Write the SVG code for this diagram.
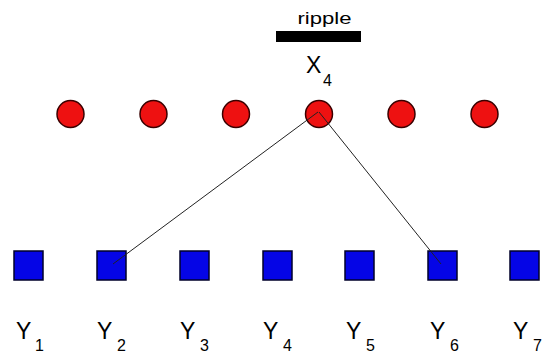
<svg xmlns="http://www.w3.org/2000/svg" width="545" height="360" viewBox="0 0 545 360">
<style>
.c{fill:#ee1111;stroke:#3a0000;stroke-width:1.5}
.s{fill:#0505e6;stroke:#00002a;stroke-width:1.5}
.l{stroke:#222;stroke-width:1;fill:none}
.t{font-family:"Liberation Sans",Arial,sans-serif;fill:#000}
.b{font-size:23px}
.sub{font-size:16px}
</style>
<rect width="545" height="360" fill="#fff"/>
<g id="ripple">
<text class="t" x="297.5" y="24" font-size="17" textLength="54" lengthAdjust="spacingAndGlyphs">ripple</text>
<rect x="276" y="31" width="85" height="11" fill="#000"/>
</g>
<g id="x4-label"><text class="t b" x="306" y="73">X</text><text class="t sub" x="323" y="86">4</text></g>
<g id="x1"><circle class="c" cx="70.5" cy="114" r="13.5"/></g>
<g id="x2"><circle class="c" cx="153.5" cy="114" r="13.5"/></g>
<g id="x3"><circle class="c" cx="236" cy="114" r="13.5"/></g>
<g id="x4"><circle class="c" cx="319" cy="114" r="13.5"/></g>
<g id="x5"><circle class="c" cx="401.5" cy="114" r="13.5"/></g>
<g id="x6"><circle class="c" cx="484.5" cy="114" r="13.5"/></g>
<g id="y1"><rect class="s" x="14" y="251" width="29" height="29"/><text class="t b" x="16" y="339">Y</text><text class="t sub" x="35" y="351">1</text></g>
<g id="y2"><rect class="s" x="97" y="251" width="29" height="29"/><text class="t b" x="97" y="339">Y</text><text class="t sub" x="117" y="351">2</text></g>
<g id="y3"><rect class="s" x="180" y="251" width="29" height="29"/><text class="t b" x="180" y="339">Y</text><text class="t sub" x="200" y="351">3</text></g>
<g id="y4"><rect class="s" x="263" y="251" width="29" height="29"/><text class="t b" x="263" y="339">Y</text><text class="t sub" x="283" y="351">4</text></g>
<g id="y5"><rect class="s" x="345" y="251" width="29" height="29"/><text class="t b" x="346" y="339">Y</text><text class="t sub" x="366" y="351">5</text></g>
<g id="y6"><rect class="s" x="428" y="251" width="29" height="29"/><text class="t b" x="430" y="339">Y</text><text class="t sub" x="450" y="351">6</text></g>
<g id="y7"><rect class="s" x="510" y="251" width="29" height="29"/><text class="t b" x="513" y="339">Y</text><text class="t sub" x="533" y="351">7</text></g>
<g id="connectors">
<line class="l" x1="318" y1="112" x2="113" y2="264"/>
<line class="l" x1="319" y1="112" x2="441" y2="264"/>
</g>
</svg>
